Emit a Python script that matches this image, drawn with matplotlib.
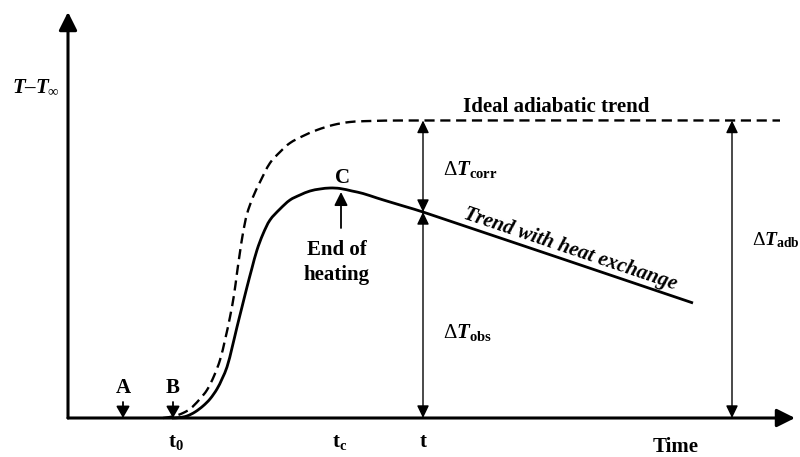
import numpy as np
import matplotlib
matplotlib.use("Agg")
import matplotlib.pyplot as plt
from matplotlib.path import Path
from matplotlib.patches import PathPatch

plt.rcParams['font.family'] = ['Liberation Serif', 'DejaVu Serif']
plt.rcParams['mathtext.fontset'] = 'custom'
plt.rcParams['mathtext.rm'] = 'Liberation Serif'
plt.rcParams['mathtext.it'] = 'Liberation Serif:italic:bold'
plt.rcParams['mathtext.bf'] = 'Liberation Serif:bold'

# ---- data (schematic units: time, temperature rise) ----
adiabatic_t = [95, 107, 115, 122, 131, 139, 146, 152, 157, 162, 166, 169, 172, 175,
               179, 185, 192, 202, 212, 222, 235, 249, 265, 282, 302, 332, 712]
adiabatic_T = [0, 2, 5, 9, 18, 28, 42, 58, 78, 101, 123, 145, 166, 185,
               204, 221, 236, 255, 266, 275, 282, 288, 293, 296, 297, 297.5, 297.5]

observed_t = [104, 112, 119, 127, 135, 142, 149, 154, 159, 164, 169, 174, 179, 184,
              189, 195, 202, 212, 222, 232, 242, 252, 262, 272, 284, 295, 309, 322,
              337, 355, 625]
observed_T = [0, 0.5, 2, 6, 12, 19, 29, 39, 51, 70, 91, 111, 131, 150,
              168, 184, 198, 209, 218, 223, 227, 229, 230, 229.5, 227, 224.5, 220, 216,
              211.5, 206, 115]

t_A, t_B = 55, 105
t0, tc, t_obs = 107, 272, 355
t_adb = 664
T_adb = 297.5
T_at_t = 206
T_C = 226

fig = plt.figure(figsize=(8, 4.57), dpi=100)
ax = fig.add_axes([0, 0, 1, 1])
ax.set_xlim(-68, 732)
ax.set_ylim(-39, 418)
ax.axis('off')


def smooth_path(xs, ys):
    """Cubic Bezier path through the given points (chord-length Catmull-Rom)."""
    P = np.column_stack([xs, ys]).astype(float)
    n = len(P)
    d = np.linalg.norm(np.diff(P, axis=0), axis=1)
    m = np.zeros_like(P)
    m[0] = (P[1] - P[0]) / d[0]
    m[-1] = (P[-1] - P[-2]) / d[-1]
    for i in range(1, n - 1):
        m[i] = (P[i + 1] - P[i - 1]) / (d[i - 1] + d[i])
    verts = [P[0]]
    codes = [Path.MOVETO]
    for i in range(n - 1):
        c1 = P[i] + m[i] * d[i] / 3
        c2 = P[i + 1] - m[i + 1] * d[i] / 3
        verts += [c1, c2, P[i + 1]]
        codes += [Path.CURVE4] * 3
    return Path(verts, codes)


def arrow(tail, tip, style='-|>', lw=1.0, hl=7, hw=3.6):
    ax.annotate('', xy=tip, xytext=tail,
                arrowprops=dict(arrowstyle=f'{style},head_length={hl},head_width={hw}',
                                lw=lw, color='black', shrinkA=0, shrinkB=0,
                                mutation_scale=1))

# axes
arrow((0, 0), (0, 406), lw=2.2, hl=11, hw=5.5)
arrow((0, 0), (727, 0), lw=2.2, hl=11, hw=5.5)

# curves
ax.add_patch(PathPatch(smooth_path(adiabatic_t, adiabatic_T), fill=False,
                       edgecolor='black', lw=1.7, linestyle=(0, (4.3, 2.4)),
                       capstyle='butt'))
ax.add_patch(PathPatch(smooth_path(observed_t, observed_T), fill=False,
                       edgecolor='black', lw=2.0, joinstyle='round'))

# vertical double arrows
arrow((t_obs, T_at_t), (t_obs, T_adb), style='<|-|>', lw=1.0, hl=7.5, hw=3.6)
arrow((t_obs, T_at_t), (t_obs, 0), style='<|-|>', lw=1.0, hl=7.5, hw=3.6)
arrow((t_adb, 0), (t_adb, T_adb), style='<|-|>', lw=1.0, hl=7.5, hw=3.6)

# A, B small arrows
arrow((t_A, 16), (t_A, 0), lw=1.3, hl=7, hw=4)
arrow((t_B, 16), (t_B, 0), lw=1.3, hl=7, hw=4)
# C arrow
arrow((tc + 1, 190), (tc + 1, T_C), lw=1.3, hl=8, hw=4)

fs = 15
kw = dict(fontsize=fs, fontweight='bold', color='black')
ax.text(-56, 326, r'$\mathit{T}$–$\mathit{T}_{\infty}$', ha='left', va='baseline', **kw)
ax.text(t_A, 25, 'A', ha='center', va='baseline', **kw)
ax.text(t_B, 25, 'B', ha='center', va='baseline', **kw)
ax.text(tc + 2, 235, 'C', ha='center', va='baseline', **kw)
ax.text(269, 163, 'End of', ha='center', va='baseline', **kw)
ax.text(269, 138, 'heating', ha='center', va='baseline', **kw)
ax.text(t0 + 1, -29, r'$\mathbf{t}_{\mathbf{0}}$', ha='center', va='baseline', **kw)
ax.text(tc, -29, r'$\mathbf{t}_{\mathbf{c}}$', ha='center', va='baseline', **kw)
ax.text(t_obs, -29, r'$\mathbf{t}$', ha='center', va='baseline', **kw)
ax.text(608, -34, 'Time', ha='center', va='baseline', **kw)
ax.text(375, 243, r'$\Delta\mathit{T}_{\mathbf{corr}}$', ha='left', va='baseline', **kw)
ax.text(375, 80, r'$\Delta\mathit{T}_{\mathbf{obs}}$', ha='left', va='baseline', **kw)
ax.text(684, 173, r'$\Delta\mathit{T}_{\mathbf{adb}}$', ha='left', va='baseline',
        fontsize=14, fontweight='bold', color='black')
ax.text(488, 306, 'Ideal adiabatic trend', ha='center', va='baseline', **kw)
ax.text(501, 164, 'Trend with heat exchange', ha='center', va='baseline',
        rotation=-18.6, rotation_mode='anchor', fontstyle='italic', **kw)

fig.savefig('out.png', dpi=100)
